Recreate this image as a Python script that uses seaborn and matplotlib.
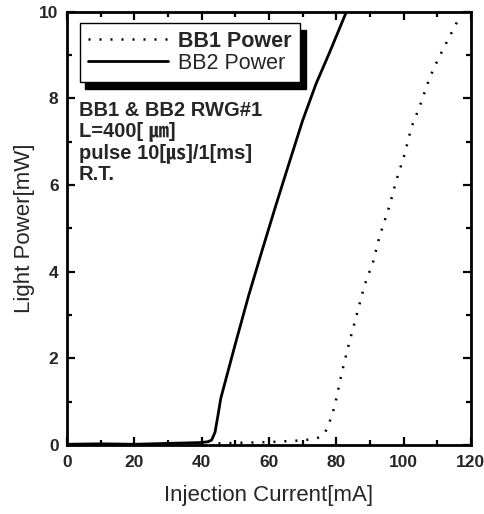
import numpy as np
import pandas as pd
import matplotlib
matplotlib.use("Agg")
import matplotlib.pyplot as plt
import seaborn as sns
from matplotlib.ticker import MultipleLocator

# ---- data ----
bb2_current = [0, 10, 20, 30, 40, 42, 43, 44, 45, 45.7, 50, 54, 58, 62, 66, 70, 74, 78, 82.9, 84]
bb2_power = [0.02, 0.03, 0.02, 0.04, 0.06, 0.08, 0.12, 0.3, 0.75, 1.08, 2.33, 3.46, 4.5, 5.52, 6.51, 7.49, 8.34, 9.06, 9.98, 10.2]

bb1_current = [45, 50, 55, 60, 65, 70, 74, 76, 77.4, 79.5, 81.5, 83.4, 85.9, 88.4, 90.9, 92.9,
               95.8, 97.8, 100.3, 102.3, 104.8, 107.7, 110.2, 113.2, 116.7]
bb1_power = [0.04, 0.05, 0.06, 0.07, 0.09, 0.11, 0.15, 0.22, 0.39, 0.89, 1.62, 2.23, 2.96, 3.69, 4.22, 4.83,
             5.52, 6.10, 6.71, 7.33, 7.82, 8.47, 8.90, 9.36, 9.89]

series_names = ["BB1 Power", "BB2 Power"]
x_label = "Injection Current[mA]"
y_label = "Light Power[mW]"
note_text = "BB1 & BB2 RWG#1\nL=400[ ㎛]\npulse 10[㎲]/1[ms]\nR.T."
x_ticks = [0, 20, 40, 60, 80, 100, 120]
y_ticks = [0, 2, 4, 6, 8, 10]

sns.set_theme(style="ticks")
plt.rcParams['font.family'] = ['Liberation Sans', 'Noto Sans CJK JP', 'DejaVu Sans']

fig = plt.figure(figsize=(4.85, 5.14), dpi=100)
ax = fig.add_axes([0.138, 0.134, 0.833, 0.843])

df1 = pd.DataFrame({"I": bb1_current, "P": bb1_power})
df2 = pd.DataFrame({"I": bb2_current, "P": bb2_power})

sns.lineplot(data=df1, x="I", y="P", ax=ax, color="black", lw=1.8,
             linestyle=(0, (0.8, 3.6)), label=series_names[0], sort=False)
sns.lineplot(data=df2, x="I", y="P", ax=ax, color="black", lw=2.0,
             label=series_names[1], sort=False)

ax.set_xlim(0, 120)
ax.set_ylim(0, 10)
ax.set_xticks(x_ticks)
ax.set_yticks(y_ticks)
ax.xaxis.set_minor_locator(MultipleLocator(10))
ax.yaxis.set_minor_locator(MultipleLocator(1))
ax.tick_params(which="both", direction="in", top=True, right=True, width=1.6, color="black")
ax.tick_params(which="major", length=6)
ax.tick_params(which="minor", length=3.5)
ax.tick_params(axis="x", which="major", labelsize=12.5, pad=7)
ax.tick_params(axis="y", which="major", labelsize=12.5, pad=6)
for lab in ax.get_xticklabels() + ax.get_yticklabels():
    lab.set_fontweight("bold")
for sp in ax.spines.values():
    sp.set_linewidth(2.0)
    sp.set_color("black")

ax.set_xlabel(x_label, fontsize=16, labelpad=11)
ax.set_ylabel(y_label, fontsize=16, labelpad=3)

leg = ax.legend(loc="upper left", bbox_to_anchor=(0.032, 0.975), frameon=True, fancybox=False,
                shadow={"color": "black", "alpha": 1.0, "ox": 4, "oy": -5}, fontsize=15.5,
                handlelength=3.7, borderpad=0.38, labelspacing=0.05, handletextpad=0.5, borderaxespad=0)
leg.get_frame().set_edgecolor("black")
leg.get_frame().set_linewidth(1.0)
leg.get_texts()[0].set_fontweight("bold")

ax.text(0.030, 0.795, note_text, transform=ax.transAxes, fontsize=14.5, fontweight="bold",
        va="top", ha="left", linespacing=1.13)

fig.savefig("out.png", dpi=100, facecolor="white")
